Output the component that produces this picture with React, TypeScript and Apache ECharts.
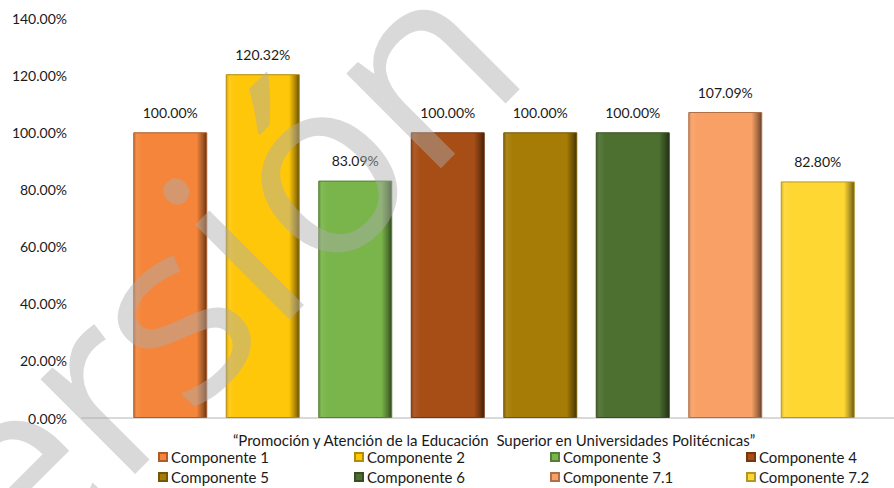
import React, { useEffect, useRef } from "react";
import * as echarts from "echarts";

const categoryLabel = "“Promoción y Atención de la Educación  Superior en Universidades Politécnicas”";
const seriesNames = ["Componente 1", "Componente 2", "Componente 3", "Componente 4", "Componente 5", "Componente 6", "Componente 7.1", "Componente 7.2"];
const seriesValues = [1.0, 1.2032, 0.8309, 1.0, 1.0, 1.0, 1.0709, 0.828];
const seriesColors = ["#F5853A", "#FFC70A", "#79B54A", "#A74E17", "#A67C06", "#4D7030", "#F9A066", "#FFD733"];
const yTicks = { min: 0, max: 1.4, interval: 0.2 };
const watermarkLetters = ["V", "e", "r", "s", "i", "ó", "n"];

function shade(hex: string, f: number): string {
  const n = parseInt(hex.slice(1), 16);
  let r = (n >> 16) & 255, g = (n >> 8) & 255, b = n & 255;
  if (f < 0) { r = Math.round(r * (1 + f)); g = Math.round(g * (1 + f)); b = Math.round(b * (1 + f)); }
  else { r = Math.round(r + (255 - r) * f); g = Math.round(g + (255 - g) * f); b = Math.round(b + (255 - b) * f); }
  return `rgb(${r},${g},${b})`;
}

export default function App() {
  const ref = useRef<HTMLDivElement>(null);
  useEffect(() => {
    if (!ref.current) return;
    const chart = echarts.init(ref.current, null, { renderer: "svg" });
    const font = "Lato";
    const series = seriesNames.map((name, i) => ({
      name,
      type: "bar",
      data: [seriesValues[i]],
      barWidth: 74,
      barGap: "25%",
      itemStyle: {
        color: new echarts.graphic.LinearGradient(0, 0, 1, 0, [
          { offset: 0, color: shade(seriesColors[i], -0.15) },
          { offset: 0.04, color: shade(seriesColors[i], 0.08) },
          { offset: 0.12, color: seriesColors[i] },
          { offset: 0.86, color: seriesColors[i] },
          { offset: 0.95, color: shade(seriesColors[i], -0.35) },
          { offset: 1, color: shade(seriesColors[i], -0.6) },
        ]),
        borderColor: shade(seriesColors[i], -0.3),
        borderWidth: 1,
      },
      label: {
        show: true,
        position: "top",
        distance: 13,
        formatter: (p: any) => (p.value * 100).toFixed(2) + "%",
        color: "#1a1a1a",
        fontSize: 14,
        fontFamily: font,
      },
    }));
    const fs = 250;
    const letterPos = [-471, -327, -210, -103, -11, 102, 248];
    const wm = watermarkLetters.map((ch, i) => ({
      type: "text",
      x: letterPos[i],
      y: -0.388 * fs,
      z: 100,
      silent: true,
      style: {
        text: ch,
        fontSize: fs,
        fontFamily: "Open Sans",
        fill: "rgba(172,172,172,0.46)",
        align: "center",
        verticalAlign: "middle",
      },
    }));
    chart.setOption({
      animation: false,
      backgroundColor: "#ffffff",
      grid: { left: 82, width: 824, top: 18, bottom: 70, containLabel: false, outerBoundsMode: "none" },
      xAxis: {
        type: "category",
        data: [categoryLabel],
        axisLine: { lineStyle: { color: "#d9d9d9", width: 2 } },
        axisTick: { show: false },
        axisLabel: { color: "#1a1a1a", fontSize: 15, fontFamily: font, margin: 14 },
      },
      yAxis: {
        type: "value",
        min: yTicks.min,
        max: yTicks.max,
        interval: yTicks.interval,
        splitLine: { show: false },
        axisLine: { show: false },
        axisTick: { show: false },
        axisLabel: {
          color: "#1a1a1a",
          fontSize: 14,
          fontFamily: font,
          margin: 15,
          formatter: (v: number) => (v * 100).toFixed(2) + "%",
        },
      },
      legend: {
        left: 158,
        top: 447,
        width: 784,
        padding: 0,
        itemGap: 0,
        itemWidth: 8,
        itemHeight: 8,
        icon: "rect",
        textStyle: { color: "#1a1a1a", fontSize: 15, fontFamily: font, width: 183, lineHeight: 20, padding: [0, 0, 0, -1] },
      },
      graphic: [
        {
          type: "group",
          x: 304.5,
          y: 304.5,
          rotation: Math.PI / 4,
          z: 100,
          silent: true,
          children: wm,
        },
      ],
      series,
    });
    return () => chart.dispose();
  }, []);
  return <div ref={ref} style={{ width: 894, height: 488, position: "absolute", left: 0, top: 0 }} />;
}
